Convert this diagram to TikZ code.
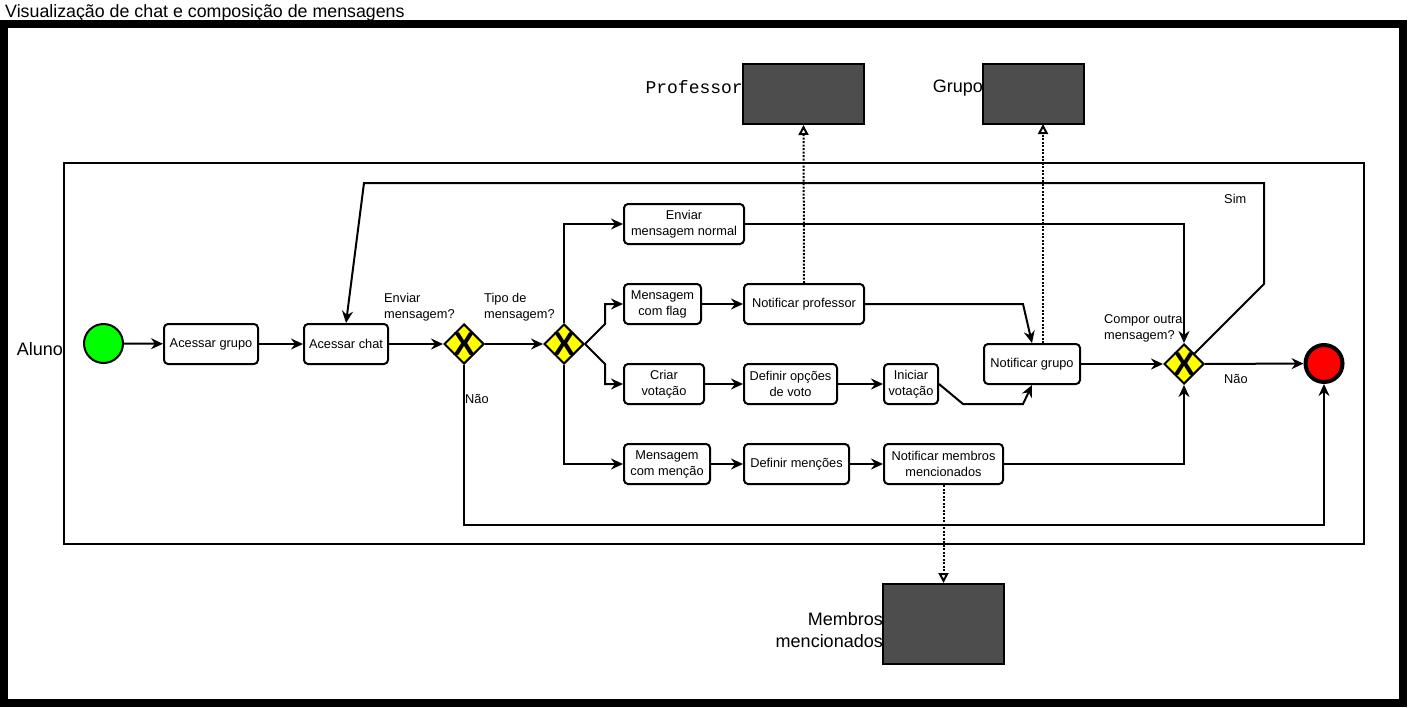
\documentclass[tikz,border=0pt]{standalone}
\usepackage{fontspec}
\setmainfont{Liberation Sans}
\setmonofont{Liberation Mono}
\usetikzlibrary{arrows.meta,shapes.geometric}

\definecolor{inicio}{HTML}{00FF00}
\definecolor{fimcor}{HTML}{FF0000}
\definecolor{gateway}{HTML}{FFFF00}
\definecolor{repositorio}{HTML}{4D4D4D}

\begin{document}
\begin{tikzpicture}[x=1pt, y=-1pt,
	tarefa/.style={draw, line width=2pt, rounded corners=4pt, fill=white, align=center, minimum height=40pt, inner sep=1pt, font=\fontsize{12.8}{16}\selectfont},
	decisao/.style={diamond, draw, line width=2pt, fill=gateway, minimum width=40pt, minimum height=40pt, inner sep=0pt},
	xis/.style={inner sep=0pt, font=\fontsize{33}{33}\selectfont\bfseries},
	repo/.style={draw, line width=2pt, fill=repositorio},
	rotulo/.style={inner sep=0pt, align=left, font=\fontsize{12.8}{16}\selectfont},
	titulo/.style={inner sep=0pt, font=\fontsize{18}{22}\selectfont},
	fluxo/.style={line width=2pt, -{Stealth[length=12pt, width=11pt, inset=4pt]}},
	msg/.style={line width=2pt, dash pattern=on 2pt off 1.5pt, -{Triangle[open, length=10pt, width=10pt]}}
]
				\useasboundingbox (0,0) rectangle (1408,707);
				
				% Moldura e raia
				\draw[line width=8pt] (4,24) rectangle (1403,702.5);
				\node[titulo, anchor=base west, font=\fontsize{17.8}{20}\selectfont] (titulo) at (5,17.5) {Visualização de chat e composição de mensagens};
				\draw[line width=2pt] (64,163) rectangle (1364,544);
				\node[titulo, anchor=east] (aluno) at (63,349) {Aluno};
				
				% Repositorios
				\node[repo, minimum width=121pt, minimum height=60pt] (professor) at (803.5,94) {};
				\node[titulo, anchor=east, font=\fontsize{18}{22}\ttfamily] (professorlbl) at (743,87) {Professor};
				\node[repo, minimum width=101pt, minimum height=60pt] (grupo) at (1033.5,94) {};
				\node[titulo, anchor=east] (grupolbl) at (983,88) {Grupo};
				\node[repo, minimum width=121pt, minimum height=80pt] (membros) at (943.5,624) {};
				\node[titulo, anchor=east, align=right] (membroslbl) at (883,630) {Membros\\mencionados};
				
				% Eventos
				\node[circle, draw, line width=2pt, fill=inicio, minimum size=39pt] (inicio) at (103.5,343.5) {};
				\node[circle, draw, line width=4pt, fill=fimcor, minimum size=37pt] (fim) at (1324,363.5) {};
				
				% Tarefas
				\node[tarefa, minimum width=94pt] (acgrupo) at (211,344) {Acessar grupo};
				\node[tarefa, minimum width=84pt] (acchat) at (346,344) {Acessar chat};
				\node[tarefa, minimum width=120pt] (normal) at (684,224) {Enviar\\mensagem normal};
				\node[tarefa, minimum width=77pt] (flag) at (662.5,304) {Mensagem\\com flag};
				\node[tarefa, minimum width=120pt] (notprof) at (804,304) {Notificar professor};
				\node[tarefa, minimum width=80pt] (criar) at (664,384) {Criar\\votação};
				\node[tarefa, minimum width=93pt] (opcoes) at (790.5,384) {Definir opções\\de voto};
				\node[tarefa, minimum width=54pt] (iniciar) at (911,384) {Iniciar\\votação};
				\node[tarefa, minimum width=96pt] (notgrupo) at (1032,364) {Notificar grupo};
				\node[tarefa, minimum width=86pt] (mencao) at (667,464) {Mensagem\\com menção};
				\node[tarefa, minimum width=105pt] (defmencoes) at (796.5,464) {Definir menções};
				\node[tarefa, minimum width=119pt] (notmembros) at (943.5,464) {Notificar membros\\mencionados};
				
				% Gateways
				\node[decisao] (gw1) at (464,344) {};
				\node[xis] (gw1x) at (gw1) {X};
				\node[decisao] (gw2) at (564,344) {};
				\node[xis] (gw2x) at (gw2) {X};
				\node[decisao] (gw3) at (1184,364) {};
				\node[xis] (gw3x) at (gw3) {X};
				\node[rotulo, anchor=west] (gw1lbl) at (384,307) {Enviar\\mensagem?};
				\node[rotulo, anchor=west] (gw2lbl) at (484,307) {Tipo de\\mensagem?};
				\node[rotulo, anchor=west] (gw3lbl) at (1104,328) {Compor outra\\mensagem?};
				\node[rotulo, anchor=west] (naoA) at (465,399) {Não};
				\node[rotulo, anchor=west] (sim) at (1224,199) {Sim};
				\node[rotulo, anchor=west] (naoB) at (1224,379) {Não};
				
				% Fluxo principal
				\draw[fluxo] (inicio) -- (acgrupo);
				\draw[fluxo] (acgrupo) -- (acchat);
				\draw[fluxo] (acchat) -- (gw1);
				\draw[fluxo] (gw1) -- (gw2);
				\draw[fluxo] (gw1.south) -- ++(0,160) -| (fim.south);
				
				% Tipos de mensagem
				\draw[fluxo] (gw2.north) |- (normal.west);
				\draw[fluxo] (gw2.east) -- ++(20,-20) |- (flag.west);
				\draw[fluxo] (gw2.east) -- ++(20,20) |- (criar.west);
				\draw[fluxo] (gw2.south) |- (mencao.west);
				
				\draw[fluxo] (flag) -- (notprof);
				\draw[fluxo] (criar) -- (opcoes);
				\draw[fluxo] (opcoes) -- (iniciar);
				\draw[fluxo] (mencao) -- (defmencoes);
				\draw[fluxo] (defmencoes) -- (notmembros);
				\draw[fluxo] (notprof.east) -- (1023,304) -- (notgrupo.north);
				\draw[fluxo] (iniciar.east) -- (963,404) -- (1023,404) -- (notgrupo.south);
				
				% Convergencia
				\draw[fluxo] (normal.east) -| (gw3.north);
				\draw[fluxo] (notgrupo) -- (gw3);
				\draw[fluxo] (notmembros.east) -| (gw3.south);
				\draw[fluxo] (gw3) -- (fim);
				\draw[fluxo] (gw3.north east) -- (1264,284) -- (1264,183) -- (364,183) -- (acchat.north);
				
				% Mensagens
				\coordinate (grupoin) at (1043,124);
				\draw[msg] (notprof.north) -- (professor.south);
				\draw[msg] (grupoin |- notgrupo.north) -- (grupoin);
				\draw[msg] (notmembros.south) -- (membros.north);
				
			\end{tikzpicture}
\end{document}
